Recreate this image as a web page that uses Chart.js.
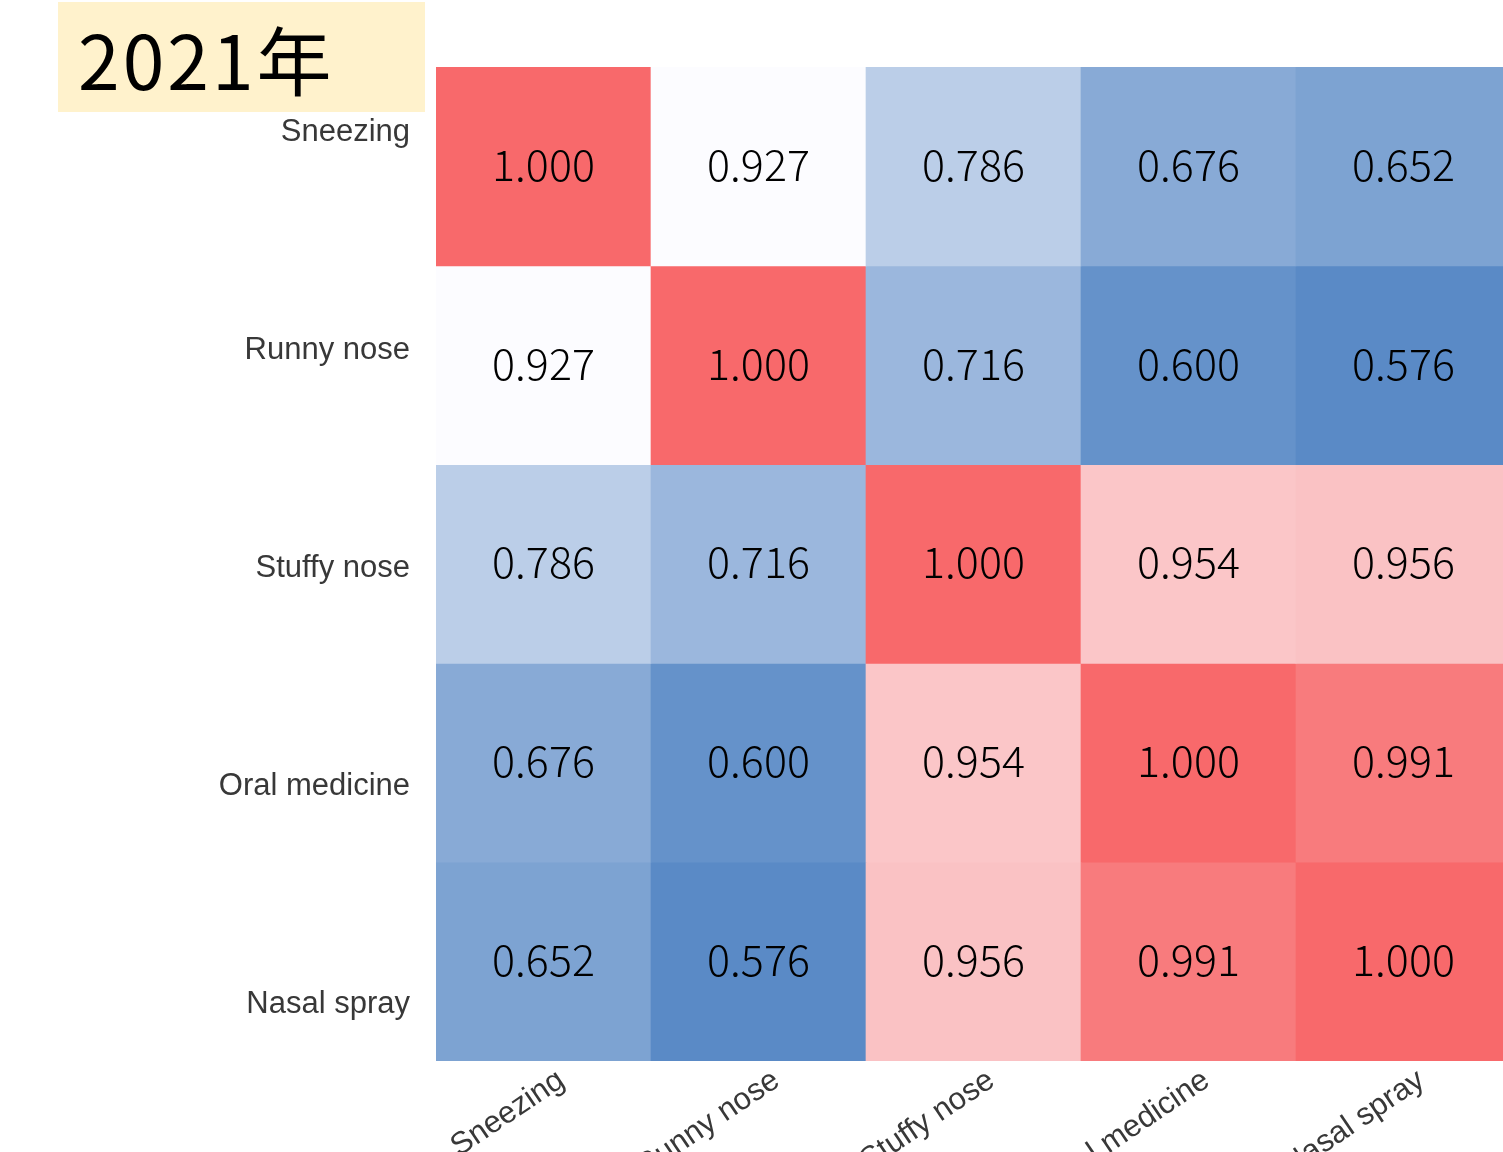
<!DOCTYPE html>
<html>
<head>
<meta charset="UTF-8">
<title>2021 correlation heatmap</title>
<script src="https://cdn.jsdelivr.net/npm/chart.js@4.4.1/dist/chart.umd.min.js"></script>
<style>
  html, body { margin: 0; padding: 0; background: #fff; overflow: hidden; }
  #wrap { position: relative; width: 1511px; height: 1152px; }
  #yearBox {
    position: absolute; left: 58px; top: 2px; width: 367px; height: 110px;
    background: #fff2cc; font-family: "Noto Sans CJK JP", sans-serif;
    font-size: 75px; line-height: 112px; color: #000; box-sizing: border-box;
    padding-left: 20px; letter-spacing: 3px; z-index: 2;
  }
</style>
</head>
<body>
<div id="wrap">
  <div id="yearBox">2021年</div>
  <canvas id="myChart"></canvas>
</div>
<script>
// 行・列のラベル
const symptoms = ['Sneezing', 'Runny nose', 'Stuffy nose', 'Oral medicine', 'Nasal spray'];

// 相関係数 (行ごと)
const sneezing     = [1.000, 0.927, 0.786, 0.676, 0.652];
const runnyNose    = [0.927, 1.000, 0.716, 0.600, 0.576];
const stuffyNose   = [0.786, 0.716, 1.000, 0.954, 0.956];
const oralMedicine = [0.676, 0.600, 0.954, 1.000, 0.991];
const nasalSpray   = [0.652, 0.576, 0.956, 0.991, 1.000];

const rows = [sneezing, runnyNose, stuffyNose, oralMedicine, nasalSpray];

// 3色スケール (最小=青, 中央値=白, 最大=赤)
const allVals = rows.flat().slice().sort((a, b) => a - b);
const vMin = allVals[0];
const vMax = allVals[allVals.length - 1];
const vMid = allVals[Math.floor(allVals.length / 2)];
const cLow = [90, 138, 198], cMid = [252, 252, 255], cHigh = [248, 105, 107];

function mix(a, b, t) {
    return 'rgb(' + a.map((v, i) => Math.round(v + (b[i] - v) * t)).join(',') + ')';
}
function cellColor(v) {
    if (v <= vMid) return mix(cLow, cMid, (v - vMin) / (vMid - vMin));
    return mix(cMid, cHigh, (v - vMid) / (vMax - vMid));
}

const datasets = rows.map((row, r) => ({
    label: symptoms[r],
    data: row.map(() => [r, r + 1]),
    values: row,
    backgroundColor: row.map(cellColor),
    borderWidth: 0,
    barPercentage: 1,
    categoryPercentage: 1,
    grouped: false,
    yAxisID: 'y'
}));

// セル内の数値
const cellText = {
    id: 'cellText',
    afterDatasetsDraw(chart) {
        const ctx = chart.ctx;
        ctx.save();
        ctx.font = '300 43px "Noto Sans CJK JP", sans-serif';
        ctx.fillStyle = '#000';
        ctx.textAlign = 'center';
        ctx.textBaseline = 'middle';
        chart.data.datasets.forEach((ds, i) => {
            chart.getDatasetMeta(i).data.forEach((bar, j) => {
                ctx.fillText(ds.values[j].toFixed(3), bar.x, (bar.y + bar.base) / 2 - 2);
            });
        });
        ctx.restore();
    }
};

const tickFont = { family: '"Liberation Sans", Arial, sans-serif', size: 31 };

new Chart(document.getElementById('myChart'), {
    type: 'bar',
    data: { labels: symptoms, datasets: datasets },
    options: {
        responsive: true,
        maintainAspectRatio: false,
        animation: false,
        layout: { padding: { top: 67, left: 0, right: 0, bottom: 0 } },
        plugins: { legend: { display: false }, tooltip: { enabled: false }, title: { display: false } },
        scales: {
            x: {
                grid: { display: false, drawTicks: false },
                border: { display: false },
                ticks: { font: tickFont, color: '#383838', minRotation: 34, maxRotation: 34, padding: 1, labelOffset: 18, autoSkip: false },
                afterFit(scale) { scale.height = 91; }
            },
            y: {
                display: false,
                reverse: true,
                min: 0,
                max: 5
            },
            yl: {
                type: 'linear',
                position: 'left',
                min: -0.298,
                max: 4.2616,
                reverse: true,
                grid: { display: false, drawTicks: false },
                border: { display: false },
                afterBuildTicks(scale) { scale.ticks = [0, 1, 2, 3, 4].map(v => ({ value: v })); },
                ticks: { font: tickFont, color: '#383838', padding: 26, callback: v => symptoms[v] },
                afterFit(scale) { scale.width = 436; }
            }
        }
    },
    plugins: [cellText]
});
</script>
</body>
</html>
